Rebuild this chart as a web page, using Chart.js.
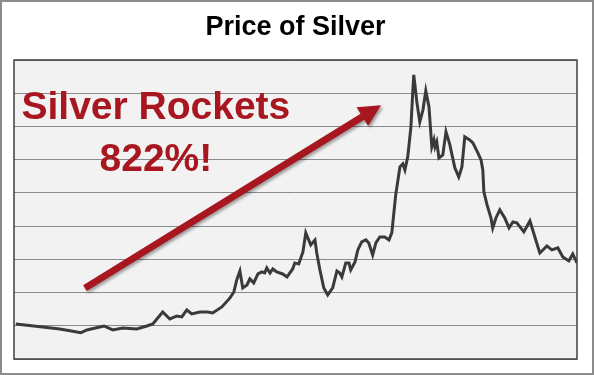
<!DOCTYPE html>
<html>
<head>
<meta charset="utf-8">
<script src="https://cdn.jsdelivr.net/npm/chart.js@4/dist/chart.umd.min.js"></script>
<style>
  html, body { margin: 0; padding: 0; background: #fff; }
  #wrap { width: 594px; height: 375px; position: relative; }
</style>
</head>
<body>
<div id="wrap"><canvas id="silverChart" width="594" height="375"></canvas></div>
<script>
// decimal years and monthly price (USD/oz)
const years = [2000.00, 2000.76, 2001.24, 2001.53, 2001.84, 2002.01, 2002.49, 2002.74, 2003.02, 2003.42,
    2003.70, 2003.87, 2004.15, 2004.35, 2004.55, 2004.69, 2004.83, 2004.97, 2005.20, 2005.42,
    2005.56, 2005.82, 2006.05, 2006.16, 2006.24, 2006.33, 2006.41, 2006.53, 2006.61, 2006.72,
    2006.84, 2006.95, 2007.03, 2007.09, 2007.18, 2007.26, 2007.37, 2007.54, 2007.66, 2007.82,
    2007.88, 2007.99, 2008.11, 2008.19, 2008.33, 2008.45, 2008.50, 2008.59, 2008.70, 2008.81,
    2008.95, 2009.07, 2009.15, 2009.21, 2009.32, 2009.41, 2009.46, 2009.58, 2009.66, 2009.77,
    2009.89, 2009.97, 2010.08, 2010.17, 2010.28, 2010.42, 2010.54, 2010.62, 2010.73, 2010.85,
    2010.93, 2010.99, 2011.07, 2011.16, 2011.21, 2011.24, 2011.33, 2011.41, 2011.50, 2011.58,
    2011.67, 2011.75, 2011.81, 2011.84, 2011.89, 2011.95, 2012.06, 2012.15, 2012.26, 2012.32,
    2012.40, 2012.51, 2012.60, 2012.68, 2012.82, 2012.91, 2013.05, 2013.14, 2013.19, 2013.22,
    2013.31, 2013.42, 2013.47, 2013.56, 2013.67, 2013.81, 2013.93, 2014.04, 2014.15, 2014.24,
    2014.35, 2014.52, 2014.66, 2014.80, 2015.00, 2015.14, 2015.31, 2015.45, 2015.62, 2015.73,
    2015.85];
const prices = [5.27, 4.82, 4.52, 4.26, 3.96, 4.37, 4.97, 4.37, 4.67, 4.52,
    4.97, 5.27, 7.08, 6.02, 6.48, 6.33, 7.38, 6.78, 7.08, 7.08,
    6.93, 7.83, 9.19, 10.09, 11.90, 13.25, 10.69, 11.14, 12.05, 11.45,
    12.80, 13.10, 12.95, 13.70, 12.95, 13.55, 13.10, 12.80, 12.35, 13.55,
    14.46, 14.31, 16.11, 18.98, 17.17, 17.92, 15.96, 13.40, 10.69, 9.64,
    10.69, 13.25, 12.95, 12.35, 14.46, 14.46, 13.40, 14.61, 16.42, 17.62,
    17.92, 17.47, 15.66, 17.47, 18.37, 18.37, 17.92, 18.98, 24.70, 28.92,
    29.37, 28.46, 30.42, 34.94, 40.06, 42.77, 38.55, 35.69, 37.50, 40.36,
    37.95, 31.93, 32.98, 31.93, 32.68, 30.27, 30.72, 34.19, 32.23, 30.72,
    28.76, 27.41, 28.92, 33.43, 32.98, 32.53, 31.02, 29.97, 28.46, 25.15,
    23.19, 21.23, 19.73, 21.23, 22.44, 21.23, 19.73, 20.63, 20.48, 19.88,
    19.13, 20.78, 18.37, 15.96, 17.02, 16.42, 16.72, 15.36, 14.76, 15.81,
    14.46];
const yTicks = [0, 5, 10, 15, 20, 25, 30, 35, 40, 45];
const calloutLines = ['Silver Rockets', '822%!'];

const points = years.map((y, i) => ({ x: y, y: prices[i] }));

const plotDeco = {
    id: 'plotDeco',
    beforeDraw(chart) {
        const { ctx, chartArea: a } = chart;
        ctx.save();
        ctx.fillStyle = '#f2f2f2';
        ctx.fillRect(a.left, a.top, a.right - a.left, a.bottom - a.top);
        ctx.restore();
    },
    afterDraw(chart) {
        const { ctx, chartArea: a } = chart;
        const w = a.right - a.left, h = a.bottom - a.top;
        ctx.save();
        // plot frame
        ctx.strokeStyle = '#404040';
        ctx.lineWidth = 1.5;
        ctx.strokeRect(a.left, a.top, w, h);
        // outer frame
        ctx.strokeStyle = '#8c8c8c';
        ctx.lineWidth = 2;
        ctx.strokeRect(1, 1, chart.width - 2, chart.height - 2);

        // arrow
        const x0 = a.left + 0.126 * w, y0 = a.top + 0.763 * h;
        const x1 = a.left + 0.652 * w, y1 = a.top + 0.151 * h;
        const ang = Math.atan2(y1 - y0, x1 - x0);
        const headLen = 22, headHalf = 11, shaft = 3.5;
        const len = Math.hypot(x1 - x0, y1 - y0);
        ctx.translate(x0, y0);
        ctx.rotate(ang);
        ctx.shadowColor = 'rgba(0,0,0,0.35)';
        ctx.shadowBlur = 3;
        ctx.shadowOffsetX = 2;
        ctx.shadowOffsetY = 2;
        ctx.fillStyle = '#a8171f';
        ctx.beginPath();
        ctx.moveTo(0, -shaft);
        ctx.lineTo(len - headLen, -shaft);
        ctx.lineTo(len - headLen, -headHalf);
        ctx.lineTo(len, 0);
        ctx.lineTo(len - headLen, headHalf);
        ctx.lineTo(len - headLen, shaft);
        ctx.lineTo(0, shaft);
        ctx.closePath();
        ctx.fill();
        ctx.restore();

        // callout text
        ctx.save();
        ctx.fillStyle = '#a8171f';
        ctx.font = 'bold 39px "Liberation Sans", Arial, sans-serif';
        ctx.textAlign = 'center';
        ctx.textBaseline = 'alphabetic';
        const cx = a.left + 0.252 * w;
        ctx.fillText(calloutLines[0], cx, a.top + 0.198 * h);
        ctx.fillText(calloutLines[1], cx, a.top + 0.372 * h);
        ctx.restore();
    }
};

new Chart(document.getElementById('silverChart'), {
    type: 'line',
    data: {
        datasets: [{
            label: 'Silver',
            data: points,
            borderColor: '#3a3a3a',
            borderWidth: 3,
            pointRadius: 0,
            tension: 0,
            fill: false
        }]
    },
    options: {
        responsive: false,
        animation: false,
        layout: { padding: { left: 14, right: 17, top: 0, bottom: 16 } },
        plugins: {
            legend: { display: false },
            tooltip: { enabled: false },
            title: {
                display: true,
                text: 'Price of Silver',
                color: '#000',
                font: { family: '"Liberation Sans", Arial, sans-serif', size: 27, weight: 'bold' },
                padding: { top: 11, bottom: 16.6 }
            }
        },
        scales: {
            x: {
                type: 'linear',
                min: 1999.95,
                max: 2015.85,
                ticks: { display: false },
                grid: { display: false, drawTicks: false },
                border: { display: false }
            },
            y: {
                min: 0,
                max: 45,
                afterBuildTicks(scale) {
                    scale.ticks = yTicks.map(v => ({ value: v }));
                },
                ticks: { display: false },
                grid: { color: '#8a8a8a', lineWidth: 1, drawTicks: false },
                border: { display: false }
            }
        }
    },
    plugins: [plotDeco]
});
</script>
</body>
</html>
